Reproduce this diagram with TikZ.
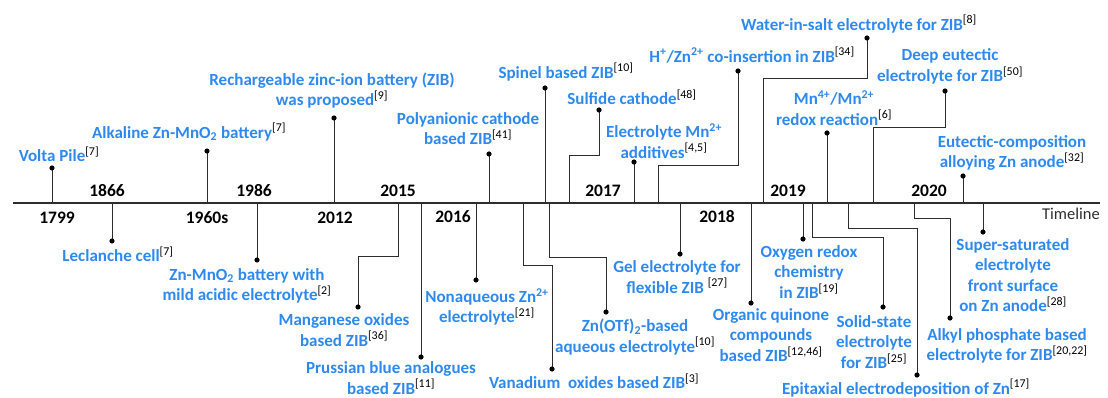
\documentclass[tikz,border=0pt]{standalone}
\usepackage{fontspec}
\setmainfont{Carlito}
\definecolor{lblue}{RGB}{45,137,239}
\definecolor{lgrey}{RGB}{45,45,45}
\newcommand\rf[1]{\textsuperscript{\color{black}\mdseries[#1]}}
\begin{document}
\begin{tikzpicture}[x=1pt,y=-1pt,
  ev/.style={text=lblue, font=\fontsize{17}{20.5}\selectfont\bfseries, align=center, inner sep=0pt},
  yr/.style={font=\fontsize{17.5}{18}\selectfont\bfseries, inner sep=0pt},
  stem/.style={draw=lgrey, line width=1pt},
  axisline/.style={draw=lgrey, line width=1.3pt},
  dotc/.style={fill=black}]
\useasboundingbox (0,0) rectangle (1108,398);
% axis
\coordinate (L) at (13,203);
\coordinate (R) at (1100,203);
\draw[axisline] (L) -- (R);
\node[font=\fontsize{16.5}{18}\selectfont, text=lgrey, inner sep=0pt] (tl) at (1071,214) {Timeline};
% years
\node[yr] (y1799) at (57,218) {1799};
\node[yr] (y1866) at (107,191) {1866};
\node[yr] (y1960) at (207,218) {1960s};
\node[yr] (y1986) at (254,191) {1986};
\node[yr] (y2012) at (335,218) {2012};
\node[yr] (y2015) at (398,191) {2015};
\node[yr] (y2016) at (453,217) {2016};
\node[yr] (y2017) at (603,191) {2017};
\node[yr] (y2018) at (717,217) {2018};
\node[yr] (y2019) at (788,191) {2019};
\node[yr] (y2020) at (929,191) {2020};
% ---------- above events ----------
\node[ev] (n1) at (59,154) {Volta Pile\rf{7}};
\coordinate (a1) at (52,203); \coordinate (d1) at (52,168);
\node[ev] (n2) at (189,132) {Alkaline Zn-MnO\textsubscript{2} battery\rf{7}};
\coordinate (a2) at (207,203); \coordinate (d2) at (207,151);
\node[ev] (n3) at (332,90.5) {Rechargeable zinc-ion battery (ZIB)\\was proposed\rf{9}};
\coordinate (a3) at (334,203); \coordinate (d3) at (334,118);
\node[ev] (n4) at (468,128.5) {Polyanionic cathode\\based ZIB\rf{41}};
\coordinate (a4) at (489,203); \coordinate (d4) at (489,154);
\node[ev] (n5) at (566,72) {Spinel based ZIB\rf{10}};
\coordinate (a5) at (545,203); \coordinate (d5) at (545,88);
\node[ev] (n6) at (632,97) {Sulfide cathode\rf{48}};
\coordinate (a6) at (569,203); \coordinate (e6) at (569,156); \coordinate (d6) at (599,110);
\node[ev] (n7) at (664,141) {Electrolyte Mn\textsuperscript{2+}\\additives\rf{4,5}};
\coordinate (a7) at (634,203); \coordinate (d7) at (634,162);
\node[ev] (n8) at (752,55) {H\textsuperscript{+}/Zn\textsuperscript{2+} co-insertion in ZIB\rf{34}};
\coordinate (a8) at (658,203); \coordinate (e8) at (658,166); \coordinate (d8) at (738,71);
\node[ev] (n9) at (859,24) {Water-in-salt electrolyte for ZIB\rf{8}};
\coordinate (a9) at (763,203); \coordinate (e9) at (763,79); \coordinate (d9) at (867,38);
\node[ev] (n10) at (834,108) {Mn\textsuperscript{4+}/Mn\textsuperscript{2+}\\redox reaction\rf{6}};
\coordinate (a10) at (827,203); \coordinate (d10) at (827,133);
\node[ev] (n11) at (950,66.5) {Deep eutectic\\electrolyte for ZIB\rf{50}};
\coordinate (a11) at (873,203); \coordinate (e11) at (873,128); \coordinate (d11) at (945,91);
\node[ev] (n12) at (1012,153) {Eutectic-composition\\alloying Zn anode\rf{32}};
\coordinate (a12) at (963,203); \coordinate (d12) at (963,176);
% ---------- below events ----------
\node[ev] (m1) at (118,254) {Leclanche cell\rf{7}};
\coordinate (b1) at (112,203); \coordinate (f1) at (112,241);
\node[ev] (m2) at (247,286) {Zn-MnO\textsubscript{2} battery with\\mild acidic electrolyte\rf{2}};
\coordinate (b2) at (257,203); \coordinate (f2) at (257,260);
\node[ev] (m3) at (344,330) {Manganese oxides\\based ZIB\rf{36}};
\coordinate (b3) at (398,203); \coordinate (g3) at (398,256); \coordinate (f3) at (358,307);
\node[ev] (m4) at (391,378) {Prussian blue analogues\\based ZIB\rf{11}};
\coordinate (b4) at (421,203); \coordinate (f4) at (421,357);
\node[ev] (m5) at (487,307) {Nonaqueous Zn\textsuperscript{2+}\\electrolyte\rf{21}};
\coordinate (b5) at (476,203); \coordinate (f5) at (476,280);
\node[ev] (m6) at (594,381) {Vanadium\ \ oxides based ZIB\rf{3}};
\coordinate (b6) at (523,203); \coordinate (g6) at (523,265); \coordinate (f6) at (552,369);
\node[ev] (m7) at (635,337) {Zn(OTf)\textsubscript{2}-based\\aqueous electrolyte\rf{10}};
\coordinate (b7) at (549,203); \coordinate (g7) at (549,257); \coordinate (f7) at (606,312);
\node[ev] (m8) at (677,277) {Gel electrolyte for\\flexible ZIB \rf{27}};
\coordinate (b8) at (680,203); \coordinate (f8) at (680,254);
\node[ev] (m9) at (771,335) {Organic quinone\\compounds\\based ZIB\rf{12,46}};
\coordinate (b9) at (751,203); \coordinate (f9) at (751,303);
\node[ev] (m10) at (809,272) {Oxygen redox\\chemistry\\in ZIB\rf{19}};
\coordinate (b10) at (803,203); \coordinate (f10) at (803,239);
\node[ev] (m11) at (874,342) {Solid-state\\electrolyte\\for ZIB\rf{25}};
\coordinate (b11) at (812,203); \coordinate (g11) at (812,237); \coordinate (f11) at (883,307);
\node[ev] (m12) at (906,388) {Epitaxial electrodeposition of Zn\rf{17}};
\coordinate (b12) at (848,203); \coordinate (g12) at (848,228); \coordinate (f12) at (917,375);
\node[ev] (m13) at (1007,346) {Alkyl phosphate based\\electrolyte for ZIB\rf{20,22}};
\coordinate (b13) at (914,203); \coordinate (g13) at (914,219); \coordinate (f13) at (950,318);
\node[ev] (m14) at (1013,275) {Super-saturated\\electrolyte\\front surface\\on Zn anode\rf{28}};
\coordinate (b14) at (983,203); \coordinate (f14) at (983,232);
% ---------- connectors ----------
\foreach \i in {1,2,3,4,5,7,10,12} {\draw[stem] (a\i) -- (d\i); \fill[dotc] (d\i) circle (2.6pt);}
\foreach \i in {6,8,9,11} {\draw[stem] (a\i) -- (e\i) -| (d\i); \fill[dotc] (d\i) circle (2.6pt);}
\foreach \i in {1,2,4,5,8,9,10,14} {\draw[stem] (b\i) -- (f\i); \fill[dotc] (f\i) circle (2.6pt);}
\foreach \i in {3,6,7,11,12,13} {\draw[stem] (b\i) -- (g\i) -| (f\i); \fill[dotc] (f\i) circle (2.6pt);}
\end{tikzpicture}
\end{document}
